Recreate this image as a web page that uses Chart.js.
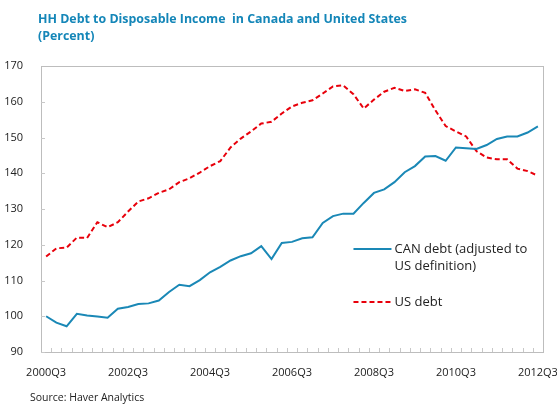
<!DOCTYPE html>
<html>
<head>
<meta charset="utf-8">
<script src="https://cdn.jsdelivr.net/npm/chart.js@4.4.0/dist/chart.umd.min.js"></script>
<style>
    body { margin: 0; background: #fff; }
    #wrap { position: relative; width: 557px; height: 404px; overflow: hidden; }
    #title { position: absolute; left: 38px; top: 10px; font-family: "Open Sans", sans-serif; font-weight: bold; font-size: 12.4px; line-height: 17px; color: #1486b8; }
    #source { position: absolute; left: 30px; top: 390px; font-family: "Open Sans", sans-serif; font-size: 10.5px; color: #222; }
</style>
</head>
<body>
<div id="wrap">
    <canvas id="chart" width="557" height="404"></canvas>
    <div id="title">HH Debt to Disposable Income&nbsp; in Canada and United States<br>(Percent)</div>
    <div id="source">Source: Haver Analytics</div>
</div>
<script>
// quarters 2000Q3 .. 2012Q3
var quarters = [];
for (var y = 2000; y <= 2012; y++) {
    for (var q = 1; q <= 4; q++) {
        if ((y == 2000 && q < 3) || (y == 2012 && q > 3)) continue;
        quarters.push(y + 'Q' + q);
    }
}

var canDebt = [100.0, 98.2, 97.2, 100.7, 100.2, 99.9, 99.6, 102.1, 102.6, 103.4, 103.6, 104.4,
    106.8, 108.8, 108.4, 110.1, 112.3, 113.8, 115.6, 116.8, 117.6, 119.6, 116.0, 120.5,
    120.8, 121.8, 122.1, 126.1, 128.0, 128.7, 128.7, 131.7, 134.5, 135.5, 137.5, 140.3,
    142.0, 144.7, 144.8, 143.5, 147.2, 147.0, 146.8, 147.9, 149.6, 150.3, 150.3, 151.4, 153.1];

var usDebt = [116.7, 119.0, 119.2, 122.0, 121.9, 126.3, 124.9, 126.3, 129.3, 132.1, 133.0, 134.5,
    135.5, 137.5, 138.6, 140.2, 142.0, 143.4, 147.2, 149.7, 151.7, 153.9, 154.4, 156.7,
    158.7, 159.7, 160.4, 162.3, 164.3, 164.6, 162.1, 158.1, 160.6, 162.8, 163.9, 163.0,
    163.5, 162.5, 157.6, 153.2, 151.7, 150.3, 146.2, 144.4, 143.9, 143.9, 141.3, 140.6, 139.3];

var seriesNames = ['CAN debt (adjusted to|US definition)', 'US debt'];
var blue = '#1a88b6';
var red = '#e8000b';
var fontFam = '"Open Sans", sans-serif';

// small inward ticks on both axes + legend inside the plot
var extras = {
    id: 'extras',
    afterDraw: function (chart) {
        var ctx = chart.ctx;
        var xs = chart.scales.x, ys = chart.scales.y;
        var area = chart.chartArea;
        ctx.save();
        ctx.strokeStyle = '#c8c8c8';
        ctx.lineWidth = 1;
        ctx.beginPath();
        for (var i = 1; i < quarters.length; i++) {
            var px = Math.round((xs.getPixelForValue(i - 1) + xs.getPixelForValue(i)) / 2) + 0.5;
            ctx.moveTo(px, area.bottom);
            ctx.lineTo(px, area.bottom - 4);
        }
        ys.ticks.forEach(function (t) {
            var py = Math.round(ys.getPixelForValue(t.value)) + 0.5;
            ctx.moveTo(area.left, py);
            ctx.lineTo(area.left + 4, py);
        });
        ctx.stroke();

        // top border
        ctx.strokeStyle = '#bdbdbd';
        ctx.beginPath();
        ctx.moveTo(area.left, Math.round(area.top) + 0.5);
        ctx.lineTo(area.right, Math.round(area.top) + 0.5);
        ctx.stroke();

        // legend
        var lx = xs.getPixelForValue(30);
        var items = [
            { y: ys.getPixelForValue(118.8), color: blue, dash: [], text: seriesNames[0] },
            { y: ys.getPixelForValue(104.0), color: red, dash: [5, 3], text: seriesNames[1] }
        ];
        ctx.font = '13px ' + fontFam;
        ctx.fillStyle = '#222';
        ctx.textBaseline = 'middle';
        items.forEach(function (it) {
            ctx.strokeStyle = it.color;
            ctx.lineWidth = 2;
            ctx.setLineDash(it.dash);
            ctx.beginPath();
            ctx.moveTo(lx, it.y);
            ctx.lineTo(lx + 38, it.y);
            ctx.stroke();
            var lines = it.text.split('|');
            lines.forEach(function (l, k) {
                ctx.fillText(l, lx + 41, it.y + k * 17);
            });
        });
        ctx.restore();
    }
};

new Chart(document.getElementById('chart'), {
    type: 'line',
    data: {
        labels: quarters,
        datasets: [
            {
                label: 'CAN debt (adjusted to US definition)',
                data: canDebt,
                borderColor: blue,
                borderWidth: 2,
                pointRadius: 0,
                tension: 0
            },
            {
                label: 'US debt',
                data: usDebt,
                borderColor: red,
                borderWidth: 2,
                borderDash: [5, 3],
                pointRadius: 0,
                tension: 0
            }
        ]
    },
    options: {
        responsive: false,
        animation: false,
        layout: { padding: { top: 66, right: 14, left: 0, bottom: 0 } },
        plugins: {
            legend: { display: false },
            tooltip: { enabled: false }
        },
        scales: {
            x: {
                offset: true,
                grid: { display: false },
                border: { display: true, color: '#bdbdbd', width: 1 },
                ticks: {
                    autoSkip: false,
                    maxRotation: 0,
                    padding: 6,
                    color: '#222',
                    font: { family: fontFam, size: 11 },
                    callback: function (v, i) { return i % 8 == 0 ? quarters[i] : ''; }
                },
                afterFit: function (s) { s.height = 52; s.paddingLeft = 0; s.paddingRight = 0; }
            },
            y: {
                min: 90,
                max: 170,
                grid: { display: false },
                border: { display: true, color: '#bdbdbd', width: 1 },
                ticks: {
                    stepSize: 10,
                    padding: 10,
                    color: '#222',
                    font: { family: fontFam, size: 11 }
                },
                afterFit: function (s) { s.width = 41; s.paddingTop = 0; s.paddingBottom = 0; }
            },
            y2: {
                position: 'right',
                min: 90,
                max: 170,
                grid: { display: false },
                border: { display: true, color: '#bdbdbd', width: 1 },
                ticks: { display: false },
                afterFit: function (s) { s.width = 0; s.paddingTop = 0; s.paddingBottom = 0; }
            }
        }
    },
    plugins: [extras]
});
</script>
</body>
</html>
